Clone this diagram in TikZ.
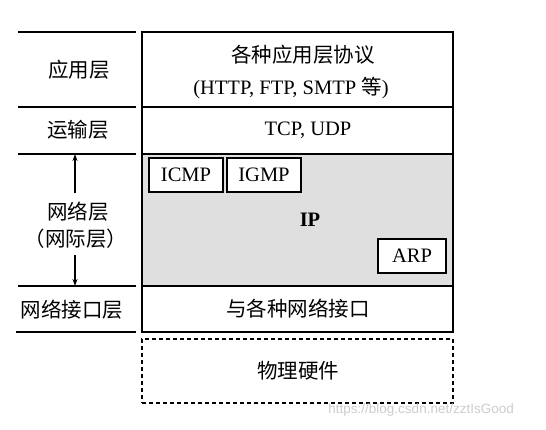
\documentclass[tikz,border=0pt]{standalone}
\usepackage{fontspec}
\setmainfont{Liberation Serif}
\newfontfamily\cjk{Noto Sans CJK SC}
\newfontfamily\wmfont{Liberation Sans}
\usetikzlibrary{arrows.meta}
\tikzset{
  rowbox/.style={draw, line width=1.4pt, minimum width=311pt, inner sep=0pt, outer sep=0pt},
  smallbox/.style={draw, fill=white, line width=1.2pt, minimum height=34pt, inner sep=0pt, outer sep=0pt, font=\fontsize{20.5}{22}\selectfont},
  cjklabel/.style={font=\cjk\fontsize{20.5}{24}\selectfont, inner sep=0pt},
  latlabel/.style={font=\fontsize{20.5}{24}\selectfont, inner sep=0pt},
  sepline/.style={line width=1.1pt},
  layerarrow/.style={line width=1.1pt, -{Stealth[length=7pt,width=5pt]}},
}
\begin{document}
\begin{tikzpicture}[x=1pt,y=-1pt]
\useasboundingbox (0,0) rectangle (546,429);
% right column rows
\node[rowbox, minimum height=75pt] (app) at (297.5,69.5) {};
\node[rowbox, minimum height=47pt] (trans) at (297.5,130.5) {};
\node[rowbox, minimum height=132pt, fill=gray!25] (net) at (297.5,220) {};
\node[rowbox, minimum height=46pt] (link) at (297.5,309) {};
\node[rowbox, minimum height=64pt, dashed, dash pattern=on 4pt off 3pt, line width=1.2pt] (phys) at (297.5,371) {};
% texts in rows
\node[cjklabel] (apptxt1) at (303,55) {各种应用层协议};
\node[latlabel] (apptxt2) at (291,88) {(HTTP, FTP, SMTP {\cjk 等})};
\node[latlabel] (transtxt) at (308,130) {TCP, UDP};
\node[latlabel, font=\bfseries\fontsize{20.5}{24}\selectfont] (iptxt) at (310,220) {IP};
\node[cjklabel] (linktxt) at (298,309) {与各种网络接口};
\node[cjklabel] (phystxt) at (298,371) {物理硬件};
% protocol boxes
\node[smallbox, minimum width=74pt] (icmp) at (186,175) {ICMP};
\node[smallbox, minimum width=74pt] (igmp) at (264,175) {IGMP};
\node[smallbox, minimum width=68pt] (arp) at (412,256) {ARP};
% left column separators
\draw[sepline] (18,32) -- (136,32);
\draw[sepline] (18,107) -- (136,107);
\draw[sepline] (18,154) -- (136,154);
\draw[sepline] (18,286) -- (136,286);
\draw[sepline] (16,332) -- (136,332);
% left labels
\node[cjklabel] (l-app) at (79,70) {应用层};
\node[cjklabel] (l-trans) at (78,130) {运输层};
\node[cjklabel] (l-net1) at (78,212) {网络层};
\node[cjklabel] (l-net2) at (76,239) {（网际层）};
\node[cjklabel] (l-link) at (72,310) {网络接口层};
% arrows
\coordinate (nettop) at (75,154);
\coordinate (netbot) at (75,286);
\coordinate (arrtopstart) at (75,193);
\coordinate (arrbotstart) at (75,255);
\draw[layerarrow] (arrtopstart) -- (nettop);
\draw[layerarrow] (arrbotstart) -- (netbot);
% watermark
\node[font=\wmfont\fontsize{13.5}{15}\selectfont, text=gray!40, inner sep=0pt, anchor=east] (wm) at (514,410) {https://blog.csdn.net/zztIsGood};
\end{tikzpicture}
\end{document}
